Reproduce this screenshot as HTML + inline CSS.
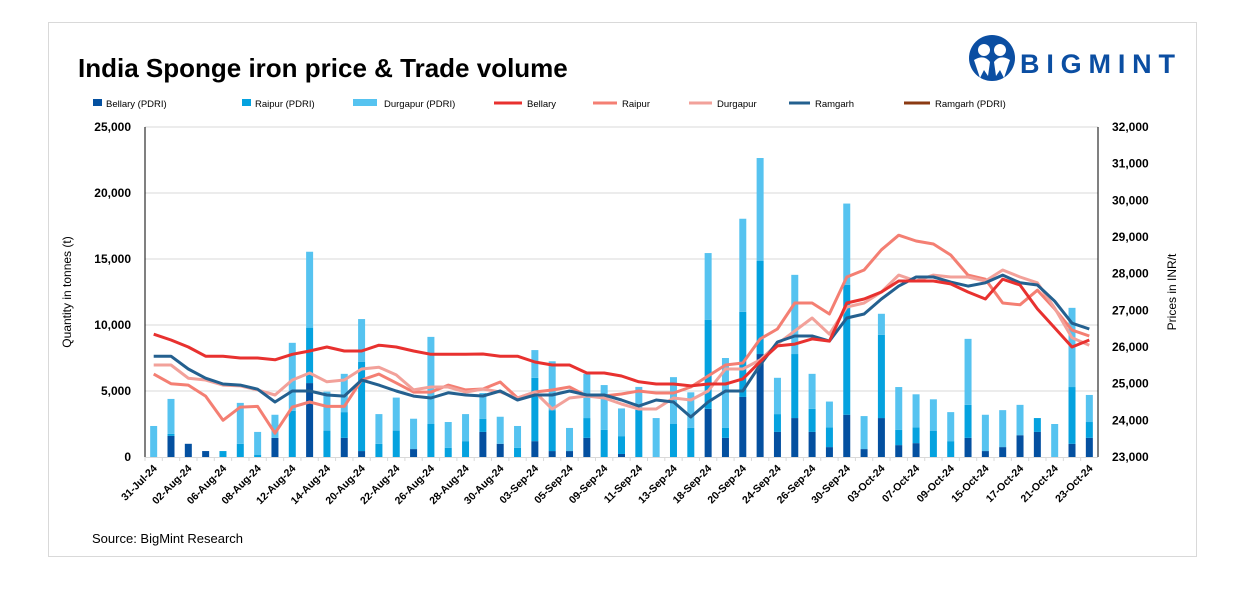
<!DOCTYPE html>
<html><head><meta charset="utf-8"><style>
body{margin:0;background:#fff;width:1242px;height:596px;overflow:hidden;font-family:"Liberation Sans",Arial,sans-serif}
svg{display:block}
</style></head><body>
<svg id="chart" width="1242" height="596" viewBox="0 0 1242 596" xmlns="http://www.w3.org/2000/svg" font-family="Liberation Sans, Arial, sans-serif">
<rect x="48.5" y="22.5" width="1148" height="534" fill="#fff" stroke="#d9d9d9"/>
<text x="78" y="77" font-size="26" font-weight="bold" fill="#000">India Sponge iron price &amp; Trade volume</text>
<g>
<circle cx="992" cy="58" r="23" fill="#0b4ea2"/>
<circle cx="984" cy="50" r="6" fill="#fff"/>
<circle cx="1000" cy="50" r="6" fill="#fff"/>
<path d="M974 60 Q984 54 990 62 L988 76 L984 70 L980 78 Z" fill="#fff"/>
<path d="M1010 60 Q1000 54 994 62 L996 76 L1000 70 L1004 78 Z" fill="#fff"/>
<text x="1020" y="73" font-size="27" font-weight="bold" fill="#0b4ea2" textLength="155" lengthAdjust="spacing">BIGMINT</text>
</g>
<g id="legend" font-size="10" fill="#000"></g>
<g id="grid"></g>
<g id="bars"></g>
<g id="lines"></g>
<g id="axes"></g>
<text transform="translate(71,292) rotate(-90)" text-anchor="middle" font-size="12" fill="#000">Quantity in tonnes (t)</text>
<text transform="translate(1176,292) rotate(-90)" text-anchor="middle" font-size="12" fill="#000">Prices in INR/t</text>
<text x="92" y="543" font-size="13" fill="#000">Source: BigMint Research</text>
</svg>
<script>
const categories=["31-Jul-24","01-Aug-24","02-Aug-24","05-Aug-24","06-Aug-24","07-Aug-24","08-Aug-24","09-Aug-24","12-Aug-24","13-Aug-24","14-Aug-24","19-Aug-24","20-Aug-24","21-Aug-24","22-Aug-24","23-Aug-24","26-Aug-24","27-Aug-24","28-Aug-24","29-Aug-24","30-Aug-24","02-Sep-24","03-Sep-24","04-Sep-24","05-Sep-24","06-Sep-24","09-Sep-24","10-Sep-24","11-Sep-24","12-Sep-24","13-Sep-24","17-Sep-24","18-Sep-24","19-Sep-24","20-Sep-24","23-Sep-24","24-Sep-24","25-Sep-24","26-Sep-24","27-Sep-24","30-Sep-24","01-Oct-24","03-Oct-24","04-Oct-24","07-Oct-24","08-Oct-24","09-Oct-24","10-Oct-24","15-Oct-24","16-Oct-24","17-Oct-24","18-Oct-24","21-Oct-24","22-Oct-24","23-Oct-24"];
const bellaryVol=[0,1600,1000,450,0,0,0,1450,0,5600,0,1450,450,0,0,600,0,0,0,1900,1000,0,1200,450,450,1450,0,230,0,0,0,0,3650,1450,4550,7800,1900,2950,1900,750,3200,600,2950,900,1050,0,0,1450,450,750,1650,1900,0,1000,1450];
const raipurVol=[0,150,0,0,450,1000,150,0,3500,4200,2000,1950,6750,1000,2000,0,2500,700,1200,1000,0,700,4800,3100,0,1500,2050,1350,3560,0,2500,2200,6750,750,6450,7050,1350,4850,1750,1500,9850,0,6300,1150,1200,1970,1200,2500,0,0,0,1050,0,4300,1200];
const durgapurVol=[2350,2650,0,0,0,3100,1750,1750,5150,5750,2950,2900,3250,2250,2500,2300,6600,1950,2050,1950,2050,1650,2100,3700,1750,3350,3400,2100,1750,2950,3550,2700,5050,5300,7050,7800,2750,6000,2650,1950,6150,2500,1600,3250,2500,2400,2200,5000,2750,2800,2300,0,2500,6000,2050];
const bellaryPrice=[26350,26190,26000,25750,25750,25700,25700,25650,25800,25890,26000,25890,25890,26050,26000,25890,25800,25800,25800,25810,25750,25750,25590,25510,25510,25290,25290,25210,25050,24990,24990,24940,24990,24990,25130,25600,26030,26080,26220,26160,27200,27310,27500,27800,27800,27800,27720,27500,27310,27850,27690,27040,26520,26000,26190];
const raipurPrice=[25260,25000,24960,24660,24000,24360,24380,23650,24360,24500,24380,24380,25100,25260,25020,24770,24770,24960,24830,24855,25045,24609,24773,24827,24909,24664,24664,24718,24800,24745,24745,24909,25209,25509,25564,26218,26491,27200,27200,26900,27910,28100,28650,29050,28890,28810,28510,27960,27850,27200,27150,27550,27040,26460,26300];
const durgapurPrice=[25510,25510,25150,25100,24960,24940,24830,24690,25100,25290,25050,25100,25400,25450,25240,24830,24910,24910,24770,24855,24773,24609,24773,24309,24609,24664,24609,24445,24309,24309,24609,24555,24800,25400,25400,25645,26082,26440,26790,26350,27090,27200,27500,27960,27800,27960,27910,27910,27800,28100,27910,27750,27060,26250,26050];
const ramgarhPrice=[25750,25750,25400,25150,24990,24960,24850,24500,24800,24800,24690,24660,25100,24960,24800,24660,24610,24750,24690,24664,24800,24555,24691,24691,24800,24691,24691,24555,24391,24555,24500,24091,24500,24800,24800,25509,26136,26300,26300,26160,26790,26900,27310,27660,27910,27910,27770,27660,27750,27960,27750,27690,27250,26650,26490];
const leftTicks=[0,5000,10000,15000,20000,25000];
const rightTicks=[23000,24000,25000,26000,27000,28000,29000,30000,31000,32000];

const NS="http://www.w3.org/2000/svg";
const X0=145,X1=1098,Y0=457,Y1=127;
const step=(X1-X0)/categories.length;
const xc=i=>X0+(i+0.5)*step;
const yL=v=>Y0-(v-0)/(25000-0)*(Y0-Y1);
const yR=v=>Y0-(v-23000)/(32000-23000)*(Y0-Y1);
function mk(tag,attrs,parent){const e=document.createElementNS(NS,tag);for(const k in attrs)e.setAttribute(k,attrs[k]);parent.appendChild(e);return e;}
const grid=document.getElementById('grid'),bars=document.getElementById('bars'),lines=document.getElementById('lines'),axes=document.getElementById('axes'),legend=document.getElementById('legend');

leftTicks.forEach(t=>{
  if(t>0){const g=mk('line',{x1:X0,x2:X1,y1:yL(t),y2:yL(t),stroke:'#d9d9d9','stroke-width':1},grid);
  
  }
  const tx=mk('text',{x:X0-14,y:yL(t)+4,'text-anchor':'end','font-size':12,'font-weight':'bold',fill:'#000'},axes);tx.textContent=t.toLocaleString('en-US');
  
  
});
rightTicks.forEach(t=>{
  const tx=mk('text',{x:X1+14,y:yR(t)+4,'font-size':12,'font-weight':'bold',fill:'#000'},axes);tx.textContent=t.toLocaleString('en-US');
  
  
});
const la=mk('line',{x1:X0,x2:X0,y1:Y1,y2:Y0,stroke:'#000','stroke-width':1},axes);


const ra=mk('line',{x1:X1,x2:X1,y1:Y1,y2:Y0,stroke:'#000','stroke-width':1},axes);


const xa=mk('line',{x1:X0,x2:X1,y1:Y0+0.5,y2:Y0+0.5,stroke:'#d9d9d9','stroke-width':1},axes);



const bw=7;
categories.forEach((c,i)=>{
  const tk=mk('line',{x1:X0+i*step,x2:X0+i*step,y1:Y0,y2:Y0+4,stroke:'#d9d9d9'},axes);
  
  
  let base=0;
  [[bellaryVol,'#0450a0','bar-bellary'],[raipurVol,'#05a2df','bar-raipur'],[durgapurVol,'#56c3f0','bar-durgapur']].forEach(([arr,col,nm])=>{
    const v=arr[i];if(v>0){
      const r=mk('rect',{x:xc(i)-bw/2,y:yL(base+v),width:bw,height:yL(base)-yL(base+v),fill:col},bars);
      
      
    }
    base+=v;
  });
  if(i%2===0){
    const tx=mk('text',{transform:`translate(${xc(i)+4},${Y0+12}) rotate(-45)`,'text-anchor':'end','font-size':10.5,'font-weight':'bold',fill:'#000'},axes);
    tx.textContent=c;
    
    
  }
});
[[raipurPrice,'#f47f73','line-raipur'],[durgapurPrice,'#f2a19a','line-durgapur'],[ramgarhPrice,'#24608f','line-ramgarh'],[bellaryPrice,'#e8312f','line-bellary']].forEach(([arr,col,nm])=>{
  const p=mk('polyline',{points:arr.map((v,i)=>xc(i).toFixed(1)+','+yR(v).toFixed(1)).join(' '),fill:'none',stroke:col,'stroke-width':3,'stroke-linejoin':'round'},lines);
  
  
});

const legItems=[['rect','#0450a0','Bellary (PDRI)',93,106],['rect','#05a2df','Raipur (PDRI)',242,255],['rect','#56c3f0','Durgapur (PDRI)',353,384],['line','#e8312f','Bellary',494,527],['line','#f47f73','Raipur',593,622],['line','#f2a19a','Durgapur',689,717],['line','#24608f','Ramgarh',789,815],['line','#8b3a12','Ramgarh (PDRI)',904,935]];
legItems.forEach(([t,col,label,sx,tx])=>{
  const g=mk('g',{},legend);
  
  
  if(t==='rect'){mk('rect',{x:sx,y:99,width:(tx-sx-4>24?24:tx-sx-4),height:7,fill:col},g);}
  else{mk('line',{x1:sx,x2:tx-5,y1:103,y2:103,stroke:col,'stroke-width':3},g);}
  const te=mk('text',{x:tx,y:107,'font-size':9.5,fill:'#000'},g);te.textContent=label;
});
</script>
</body></html>
